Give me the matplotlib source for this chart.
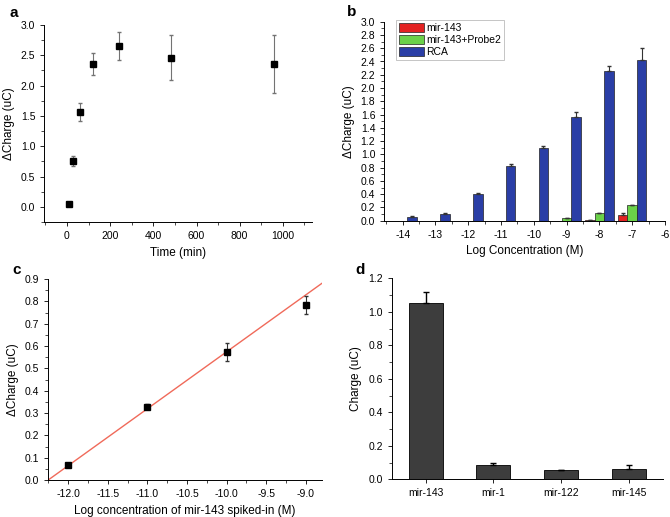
import matplotlib
matplotlib.use('Agg')
import matplotlib.pyplot as plt
import numpy as np
from matplotlib.ticker import MultipleLocator

plt.rcParams['font.family'] = ['Liberation Sans', 'DejaVu Sans']
plt.rcParams['font.size'] = 7.5

# panel a: time course
time_min = [10, 30, 60, 120, 240, 480, 960]
charge_a = [0.05, 0.76, 1.56, 2.35, 2.65, 2.46, 2.36]
err_a = [0.0, 0.08, 0.15, 0.18, 0.23, 0.37, 0.48]

# panel b: log concentration bars (0 = no bar drawn)
log_conc = [-14, -13, -12, -11, -10, -9, -8, -7]
mir143 = [0, 0, 0, 0, 0, 0, 0.01, 0.08]
mir143_err = [0, 0, 0, 0, 0, 0, 0, 0.03]
probe2 = [0, 0, 0, 0, 0, 0.04, 0.11, 0.23]
probe2_err = [0, 0, 0, 0, 0, 0, 0, 0.01]
rca = [0.06, 0.10, 0.40, 0.82, 1.10, 1.57, 2.26, 2.43]
rca_err = [0.01, 0.01, 0.02, 0.03, 0.03, 0.07, 0.07, 0.18]

# panel c: calibration
spike_log = [-12.0, -11.0, -10.0, -9.0]
charge_c = [0.068, 0.328, 0.573, 0.785]
err_c = [0.006, 0.012, 0.04, 0.04]
fit_slope = 0.255
fit_intercept = 3.124

# panel d: specificity
mirnas = ['mir-143', 'mir-1', 'mir-122', 'mir-145']
charge_d = [1.05, 0.085, 0.053, 0.063]
err_d = [0.07, 0.012, 0.005, 0.025]

W, H = 670, 517
fig = plt.figure(figsize=(W / 100, H / 100), dpi=100)


def box(l, r, t, b):
    return [l / W, 1 - b / H, (r - l) / W, (b - t) / H]


def style(ax):
    for s in ['top', 'right']:
        ax.spines[s].set_visible(False)
    ax.tick_params(direction='out', length=3, width=0.6, labelsize=7.5)
    ax.tick_params(which='minor', direction='out', length=2, width=0.5)
    for s in ['left', 'bottom']:
        ax.spines[s].set_linewidth(0.7)


# a
ax = fig.add_axes(box(44.3, 312, 25, 222))
ax.errorbar(time_min, charge_a, yerr=err_a, fmt='s', color='black',
            ecolor='0.45', elinewidth=0.8, capsize=1.5, markersize=5)
ax.set_xlim(-105, 1135)
ax.set_ylim(-0.25, 3.0)
ax.xaxis.set_major_locator(MultipleLocator(200))
ax.xaxis.set_minor_locator(MultipleLocator(100))
ax.yaxis.set_major_locator(MultipleLocator(0.5))
ax.yaxis.set_minor_locator(MultipleLocator(0.25))
ax.yaxis.set_major_formatter(plt.FormatStrFormatter('%.1f'))
ax.set_xlabel('Time (min)', fontsize=8.5)
ax.set_ylabel('ΔCharge (uC)', fontsize=8.5)
style(ax)
fig.text(9 / W, 1 - 13 / H, 'a', fontsize=11, fontweight='bold', va='center')

# b
ax = fig.add_axes(box(384.3, 665, 21.7, 220.7))
x = np.array(log_conc)
w = 0.29
kw = dict(edgecolor='#222222', linewidth=0.5, error_kw=dict(elinewidth=0.8, capsize=1.5, ecolor='#333333'))
series = [(mir143, mir143_err, -w, '#e32222', 'mir-143'),
          (probe2, probe2_err, 0, '#6bd149', 'mir-143+Probe2'),
          (rca, rca_err, w, '#2a3ea6', 'RCA')]
for vals, errs, off, col, lab in series:
    vals = np.array(vals)
    errs = np.array(errs)
    m = vals > 0
    ax.bar(x[m] + off, vals[m], w, yerr=[np.zeros(m.sum()), errs[m]], color=col, label=lab, **kw)
ax.set_xlim(-14.56, -6)
ax.set_ylim(0, 3.0)
ax.xaxis.set_major_locator(MultipleLocator(1))
ax.xaxis.set_minor_locator(MultipleLocator(0.5))
ax.yaxis.set_major_locator(MultipleLocator(0.2))
ax.yaxis.set_minor_locator(MultipleLocator(0.1))
ax.yaxis.set_major_formatter(plt.FormatStrFormatter('%.1f'))
ax.xaxis.set_major_formatter(plt.FuncFormatter(lambda v, p: '%d' % round(v)))
ax.set_xlabel('Log Concentration (M)', fontsize=8.5)
ax.set_ylabel('ΔCharge (uC)', fontsize=8.5)
style(ax)
leg = ax.legend(loc='upper left', bbox_to_anchor=(0.035, 1.02), fontsize=7.5, frameon=True, fancybox=False,
                edgecolor='0.6', handlelength=2.4, handleheight=0.9, handletextpad=0.15,
                borderpad=0.3, labelspacing=0.2, borderaxespad=0.2)
leg.get_frame().set_linewidth(0.5)
fig.text(347 / W, 1 - 12 / H, 'b', fontsize=11, fontweight='bold', va='center')

# c
ax = fig.add_axes(box(48.3, 321.7, 279, 480))
xl = np.array([-12.25, -8.8])
ax.plot(xl, fit_slope * xl + fit_intercept, color='#f06a5a', linewidth=1.0)
ax.errorbar(spike_log, charge_c, yerr=err_c, fmt='s', color='black',
            ecolor='0.2', elinewidth=0.8, capsize=1.5, markersize=5)
ax.set_xlim(-12.25, -8.8)
ax.set_ylim(0, 0.9)
ax.xaxis.set_major_locator(MultipleLocator(0.5))
ax.xaxis.set_minor_locator(MultipleLocator(0.25))
ax.yaxis.set_major_locator(MultipleLocator(0.1))
ax.yaxis.set_minor_locator(MultipleLocator(0.05))
ax.xaxis.set_major_formatter(plt.FormatStrFormatter('%.1f'))
ax.yaxis.set_major_formatter(plt.FormatStrFormatter('%.1f'))
ax.set_xlabel('Log concentration of mir-143 spiked-in (M)', fontsize=8.5)
ax.set_ylabel('ΔCharge (uC)', fontsize=8.5)
style(ax)
fig.text(12 / W, 1 - 270 / H, 'c', fontsize=11, fontweight='bold', va='center')

# d
ax = fig.add_axes(box(391.7, 663, 278.3, 479.3))
pos = np.arange(len(mirnas))
ax.bar(pos, charge_d, 0.5, yerr=[np.zeros(4), err_d], color='#3d3d3d', edgecolor='black', linewidth=0.6,
       error_kw=dict(elinewidth=1.0, capsize=2, ecolor='black'))
ax.set_xlim(-0.5, 3.5)
ax.set_ylim(0, 1.2)
ax.set_xticks(pos)
ax.set_xticklabels(mirnas)
ax.yaxis.set_major_locator(MultipleLocator(0.2))
ax.yaxis.set_minor_locator(MultipleLocator(0.1))
ax.yaxis.set_major_formatter(plt.FormatStrFormatter('%.1f'))
ax.set_ylabel('Charge (uC)', fontsize=8.5)
style(ax)
fig.text(355 / W, 1 - 270 / H, 'd', fontsize=11, fontweight='bold', va='center')

fig.savefig('out.png', dpi=100)
